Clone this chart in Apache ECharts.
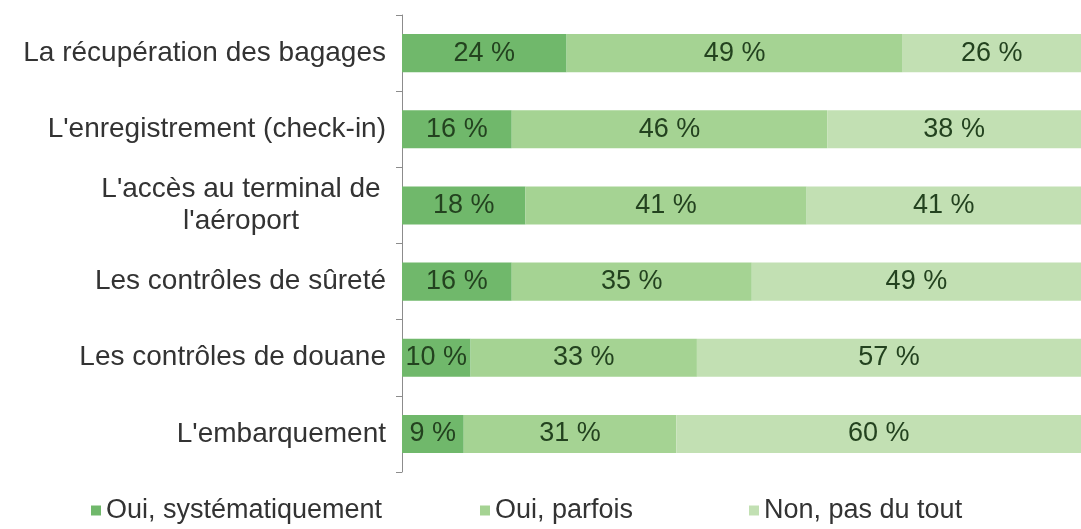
<!DOCTYPE html>
<html>
<head>
<meta charset="utf-8">
<script src="https://cdn.jsdelivr.net/npm/echarts@6/dist/echarts.min.js"></script>
<style>
  html, body { margin: 0; padding: 0; background: #fff; }
  #chart { width: 1081px; height: 529px; }
</style>
</head>
<body>
<div id="chart"></div>
<script>
const categories = [
  "La récupération des bagages",
  "L'enregistrement (check-in)",
  "L'accès au terminal de\nl'aéroport",
  "Les contrôles de sûreté",
  "Les contrôles de douane",
  "L'embarquement"
];
const seriesNames = ["Oui, systématiquement", "Oui, parfois", "Non, pas du tout"];
const systematique = [24, 16, 18, 16, 10, 9];
const parfois = [49, 46, 41, 35, 33, 31];
const pasDuTout = [26, 38, 41, 49, 57, 60];
const colors = ["#70b86b", "#a5d393", "#c2e0b3"];

const font = "Liberation Sans, Arial, sans-serif";
// x of each legend entry (the reference spaces them unevenly)
const legendLeft = [86, 475, 744];

function makeSeries(name, data, color) {
  return {
    name: name,
    type: "bar",
    stack: "total",
    barWidth: "50%",
    data: data,
    itemStyle: { color: color },
    label: {
      show: true,
      position: "inside",
      formatter: "{c} %",
      color: "#23421f",
      fontSize: 27,
      fontFamily: font
    },
    emphasis: { disabled: true }
  };
}

const chart = echarts.init(document.getElementById("chart"));
chart.setOption({
  animation: false,
  color: colors,
  // right edge of the plot falls just outside the picture, so the scale stops at 99
  grid: { left: 402, right: 0, top: 15, bottom: 57, containLabel: false },
  legend: seriesNames.map(function (n, i) {
    return {
      top: 492,
      left: legendLeft[i],
      itemWidth: 10,
      itemHeight: 10,
      icon: "rect",
      textStyle: { fontSize: 27, color: "#333", fontFamily: font },
      data: [n]
    };
  }),
  xAxis: { type: "value", min: 0, max: 99, show: false },
  yAxis: {
    type: "category",
    inverse: true,
    data: categories,
    axisLine: { show: true, lineStyle: { color: "#8c8c8c", width: 1 } },
    axisTick: { show: true, length: 6, lineStyle: { color: "#8c8c8c" } },
    axisLabel: {
      margin: 16,
      fontSize: 28,
      color: "#333",
      fontFamily: font,
      formatter: function (v) {
        if (v.indexOf("\n") >= 0) {
          return v.split("\n").map(function (s) { return "{m|" + s + "}"; }).join("\n");
        }
        return v;
      },
      rich: {
        m: { width: 290, align: "center", fontSize: 28, color: "#333", fontFamily: font, lineHeight: 32 }
      }
    },
    splitLine: { show: false }
  },
  series: [
    makeSeries(seriesNames[0], systematique, colors[0]),
    makeSeries(seriesNames[1], parfois, colors[1]),
    makeSeries(seriesNames[2], pasDuTout, colors[2])
  ]
});
</script>
</body>
</html>
